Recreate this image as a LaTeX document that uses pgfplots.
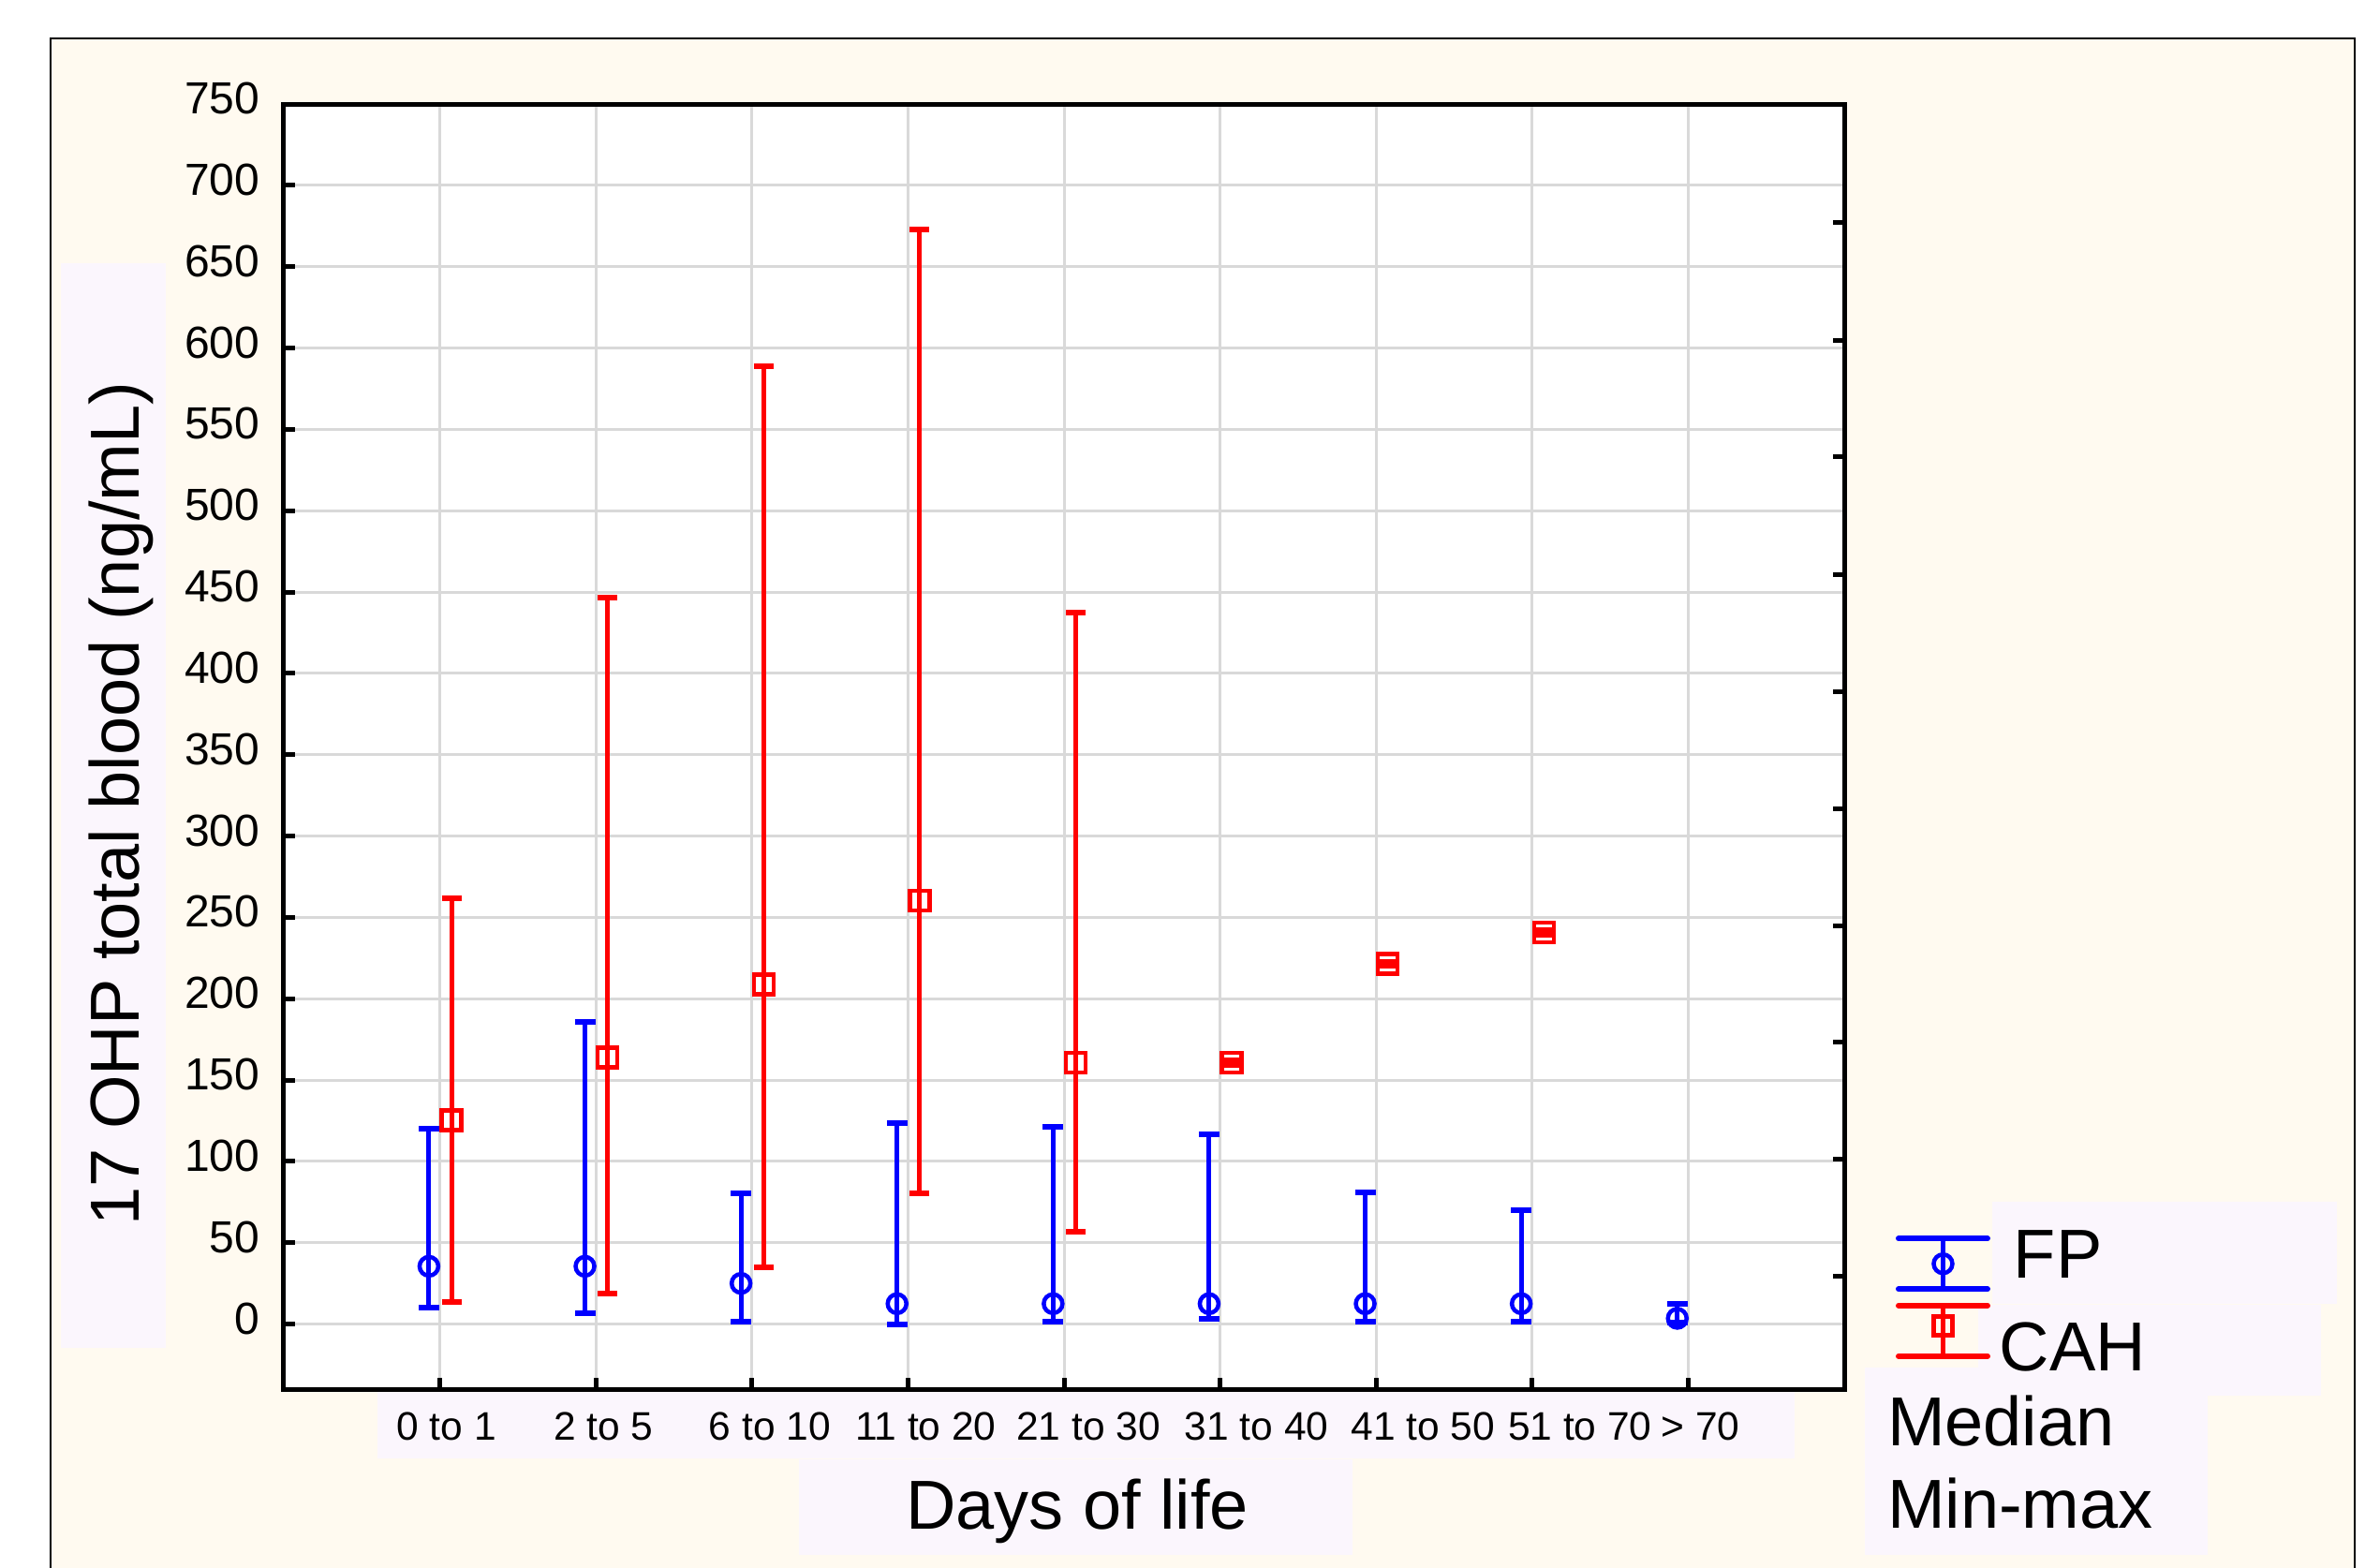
\documentclass[border=0pt]{standalone}
\usepackage{pgfplots}
\pgfplotsset{compat=1.18}
\usepackage{pgfplotstable}
\usepackage{fontspec}
\setmainfont{Liberation Sans}
\definecolor{cream}{RGB}{255,250,240}
\definecolor{lav}{RGB}{251,246,253}
\definecolor{gridgray}{RGB}{217,217,217}

% FP: median, min, max
\pgfplotstableread{
x med lo hi
0.93 35.5 10 120
1.93 35.5 6.5 185.5
2.93 25 1.5 80.5
3.93 12.5 0 123.5
4.93 12.5 1.5 121.5
5.93 12.5 3 116.5
6.93 12.5 1.5 81
7.93 12.5 1.5 70
8.93 3.5 0.8 12.3
}\fpdata

% CAH: median, min, max
\pgfplotstableread{
x med lo hi
1.075 125.3 13.8 261.7
2.075 163.8 18.6 446.5
3.075 208.8 34.7 589
4.075 260.2 80.6 673
5.075 160.7 56.9 437.5
6.075 160.6 159.5 162
7.075 221.5 220 222.5
8.075 240.6 239.5 242
}\cahdata

\begin{document}
\begin{tikzpicture}
\useasboundingbox (0,0) rectangle (508.2pt,334.6pt);
\fill[white] (0,0) rectangle (508.2pt,334.6pt);
\filldraw[fill=cream, draw=black, line width=0.35pt] (10.8pt,-5pt) rectangle (502.8pt,326.4pt);
\fill[lav] (13pt,46.8pt) rectangle (35.4pt,278.4pt);
\fill[lav] (80.6pt,23.2pt) rectangle (383.2pt,37.5pt);
\fill[lav] (170.6pt,2.6pt) rectangle (288.8pt,23pt);
\fill[lav] (425.4pt,56.2pt) rectangle (499pt,78pt);
\fill[lav] (422.4pt,36.6pt) rectangle (495.6pt,56pt);
\fill[lav] (398.2pt,2.6pt) rectangle (471.4pt,42.6pt);

\begin{axis}[
  at={(60.6pt,38pt)}, anchor=south west,
  scale only axis, width=333.2pt, height=274.4pt,
  xmin=0, xmax=10, ymin=-40, ymax=750,
  xtick={1,...,9},
  xticklabels={{\hspace*{2.8pt}0 to 1}, {\hspace*{3.2pt}2 to 5}, {\hspace*{7.6pt}6 to 10}, {\hspace*{7.6pt}11 to 20}, {\hspace*{10.4pt}21 to 30}, {\hspace*{15.6pt}31 to 40}, {\hspace*{20pt}41 to 50}, {\hspace*{20.4pt}51 to 70}, {\hspace*{5.2pt}> 70}},
  ytick={0,50,...,750},
  xtick pos=bottom, ytick pos=left,
  tick align=inside,
  major tick length=2.4pt,
  tick style={black, line width=1pt},
  axis line style={black, line width=1pt},
  grid=major,
  major grid style={gridgray, line width=0.6pt},
  axis background/.style={fill=white},
  /pgf/number format/assume math mode=true,
  yticklabel style={font=\fontsize{9.6}{11}\selectfont, xshift=-1.6pt, yshift=1.2pt},
  xticklabel style={font=\fontsize{8.5}{10}\selectfont, yshift=-1.4pt},
  xlabel={Days of life},
  ylabel={17 OHP total blood (ng/mL)},
  label style={font=\fontsize{14.8}{17}\selectfont},
  xlabel style={at={(axis description cs:0.5084,-0.1093)}, anchor=base},
  ylabel style={at={(axis description cs:-0.0930,0.4555)}, anchor=base},
  legend style={at={(axis description cs:1.0324,0.1241)}, anchor=north west,
    draw=none, fill=none, inner sep=0pt, row sep=1.05pt, column sep=5pt,
    font=\fontsize{14.8}{17}\selectfont,
    nodes={inner sep=0pt, text depth=4pt}},
  legend cell align=left,
]
\addplot+[only marks, blue, mark=o, mark size=2pt,
  mark options={solid, line width=0.9pt},
  legend image code/.code={
    \draw[blue, line width=1pt] (9.5pt,-5.4pt) -- (9.5pt,5.4pt);
    \draw[blue, line width=1.2pt, line cap=round] (0pt,-5.4pt) -- (19pt,-5.4pt) (0pt,5.4pt) -- (19pt,5.4pt);
    \draw[blue, line width=0.9pt] plot[only marks, mark=o, mark size=2pt] coordinates {(9.5pt,0pt)};
  },
  error bars/.cd, y dir=both, y explicit,
  error bar style={line width=1pt, blue},
  error mark options={rotate=90, line width=1.2pt, mark size=2.2pt, blue},
  ]
  table[x=x, y=med, y error plus expr=\thisrow{hi}-\thisrow{med}, y error minus expr=\thisrow{med}-\thisrow{lo}] {\fpdata};
\addlegendentry{FP}
\addplot+[only marks, red, mark=square, mark size=2.1pt,
  mark options={solid, line width=0.9pt},
  legend image code/.code={
    \path (0pt,-11.3pt) (0pt,11.3pt);
    \draw[red, line width=1pt] (9.5pt,-0.1pt) -- (9.5pt,10.7pt);
    \draw[red, line width=1.2pt, line cap=round] (0pt,-0.1pt) -- (19pt,-0.1pt) (0pt,10.7pt) -- (19pt,10.7pt);
    \draw[red, line width=0.9pt] plot[only marks, mark=square, mark size=2pt] coordinates {(9.5pt,6.4pt)};
  },
  error bars/.cd, y dir=both, y explicit,
  error bar style={line width=1pt, red},
  error mark options={rotate=90, line width=1.2pt, mark size=2.1pt, red},
  ]
  table[x=x, y=med, y error plus expr=\thisrow{hi}-\thisrow{med}, y error minus expr=\thisrow{med}-\thisrow{lo}] {\cahdata};
\addlegendentry{\hspace*{-3pt}CAH}
\end{axis}

\begin{axis}[
  at={(60.6pt,38pt)}, anchor=south west,
  scale only axis, width=333.2pt, height=274.4pt,
  xmin=0, xmax=10, ymin=-40, ymax=750,
  axis x line=none, axis y line*=right,
  ytick={29.5,101.4,173.2,244.5,317,388.7,460.6,533,604.8,677},
  yticklabels={}, tick align=inside, major tick length=2.4pt,
  tick style={black, line width=1pt}, axis line style={black, line width=1pt},
]
\end{axis}

\node[anchor=base west, font=\fontsize{14.8}{17}\selectfont, inner sep=0pt] at (402.8pt,26pt) {Median};
\node[anchor=base west, font=\fontsize{14.8}{17}\selectfont, inner sep=0pt] at (402.8pt,8.3pt) {Min-max};
\end{tikzpicture}
\end{document}
